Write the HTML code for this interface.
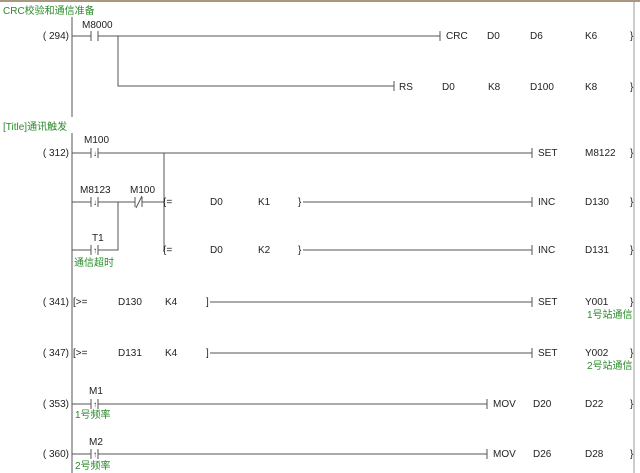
<!DOCTYPE html>
<html><head><meta charset="utf-8"><style>
html,body{margin:0;padding:0;background:#fff;}
svg{display:block;font-family:"Liberation Sans","Noto Sans CJK SC",sans-serif;}
text{font-size:10px;fill:#222;}
.g{fill:#2a8a2a;}
.l{stroke:#555;stroke-width:1;fill:none;}
</style></head><body>
<svg width="640" height="473" viewBox="0 0 640 473" xmlns="http://www.w3.org/2000/svg">
<rect x="0" y="0" width="640" height="2" fill="#a89880"/>
<line x1="634" y1="0" x2="634" y2="473" stroke="#999"/>
<!-- titles -->
<text x="3" y="14" class="g">CRC校验和通信准备</text>
<text x="3" y="130" class="g">[Title]通讯触发</text>
<!-- left bus -->
<line class="l" x1="72" y1="17" x2="72" y2="117"/>
<line class="l" x1="72" y1="133" x2="72" y2="473"/>
<!-- step numbers -->
<g text-anchor="end">
<text x="69" y="39">( 294)</text>
<text x="69" y="156">( 312)</text>
<text x="69" y="305">( 341)</text>
<text x="69" y="356">( 347)</text>
<text x="69" y="407">( 353)</text>
<text x="69" y="457">( 360)</text>
</g>
<!-- rung 294 -->
<text x="82" y="28">M8000</text>
<path class="l" d="M72 36H91M91 31V41M98 31V41M98 36H440M440 31V41M118 36V86H394M394 81V91"/>
<text x="446" y="39">CRC</text><text x="487" y="39">D0</text><text x="530" y="39">D6</text><text x="585" y="39">K6</text><text x="630" y="39">}</text>
<text x="399" y="90">RS</text><text x="442" y="90">D0</text><text x="488" y="90">K8</text><text x="530" y="90">D100</text><text x="585" y="90">K8</text><text x="630" y="90">}</text>
<!-- rung 312 -->
<text x="84" y="143">M100</text>
<path class="l" d="M72 153H91M91 148V158M98 148V158M98 153H532M532 148V158M164 153V252"/>
<text x="93" y="156" style="font-size:8px">↓</text>
<text x="538" y="156">SET</text><text x="585" y="156">M8122</text><text x="630" y="156">}</text>
<text x="80" y="193">M8123</text><text x="130" y="193">M100</text>
<path class="l" d="M72 202H91M91 197V207M98 197V207M98 202H135M135 197V207M142 197V207M142 202H164M136 208L142 196M118 202V250H98M98 245V255M91 245V255M91 250H72"/>
<text x="93" y="205" style="font-size:8px">↓</text>
<text x="92" y="241">T1</text>
<text x="93" y="253" style="font-size:8px">↑</text>
<text x="74" y="266" class="g">通信超时</text>
<text x="163" y="205">{=</text><text x="210" y="205">D0</text><text x="258" y="205">K1</text><text x="298" y="205">}</text>
<text x="163" y="253">{=</text><text x="210" y="253">D0</text><text x="258" y="253">K2</text><text x="298" y="253">}</text>
<path class="l" d="M303 202H532M532 197V207M303 250H532M532 245V255"/>
<text x="538" y="205">INC</text><text x="585" y="205">D130</text><text x="630" y="205">}</text>
<text x="538" y="253">INC</text><text x="585" y="253">D131</text><text x="630" y="253">}</text>
<!-- 341 / 347 -->
<text x="73" y="305">[&gt;=</text><text x="118" y="305">D130</text><text x="165" y="305">K4</text><text x="206" y="305">]</text>
<text x="73" y="356">[&gt;=</text><text x="118" y="356">D131</text><text x="165" y="356">K4</text><text x="206" y="356">]</text>
<path class="l" d="M210 302H532M532 297V307M210 353H532M532 348V358"/>
<text x="538" y="305">SET</text><text x="585" y="305">Y001</text><text x="630" y="305">}</text>
<text x="587" y="318" class="g">1号站通信</text>
<text x="538" y="356">SET</text><text x="585" y="356">Y002</text><text x="630" y="356">}</text>
<text x="587" y="369" class="g">2号站通信</text>
<!-- 353 / 360 -->
<text x="89" y="394">M1</text>
<text x="89" y="445">M2</text>
<path class="l" d="M72 404H91M91 399V409M98 399V409M98 404H487M487 399V409M72 454H91M91 449V459M98 449V459M98 454H487M487 449V459"/>
<text x="93" y="407" style="font-size:8px">↑</text>
<text x="93" y="457" style="font-size:8px">↑</text>
<text x="75" y="418" class="g">1号频率</text>
<text x="75" y="469" class="g">2号频率</text>
<text x="493" y="407">MOV</text><text x="533" y="407">D20</text><text x="585" y="407">D22</text><text x="630" y="407">}</text>
<text x="493" y="457">MOV</text><text x="533" y="457">D26</text><text x="585" y="457">D28</text><text x="630" y="457">}</text>
</svg>
</body></html>
